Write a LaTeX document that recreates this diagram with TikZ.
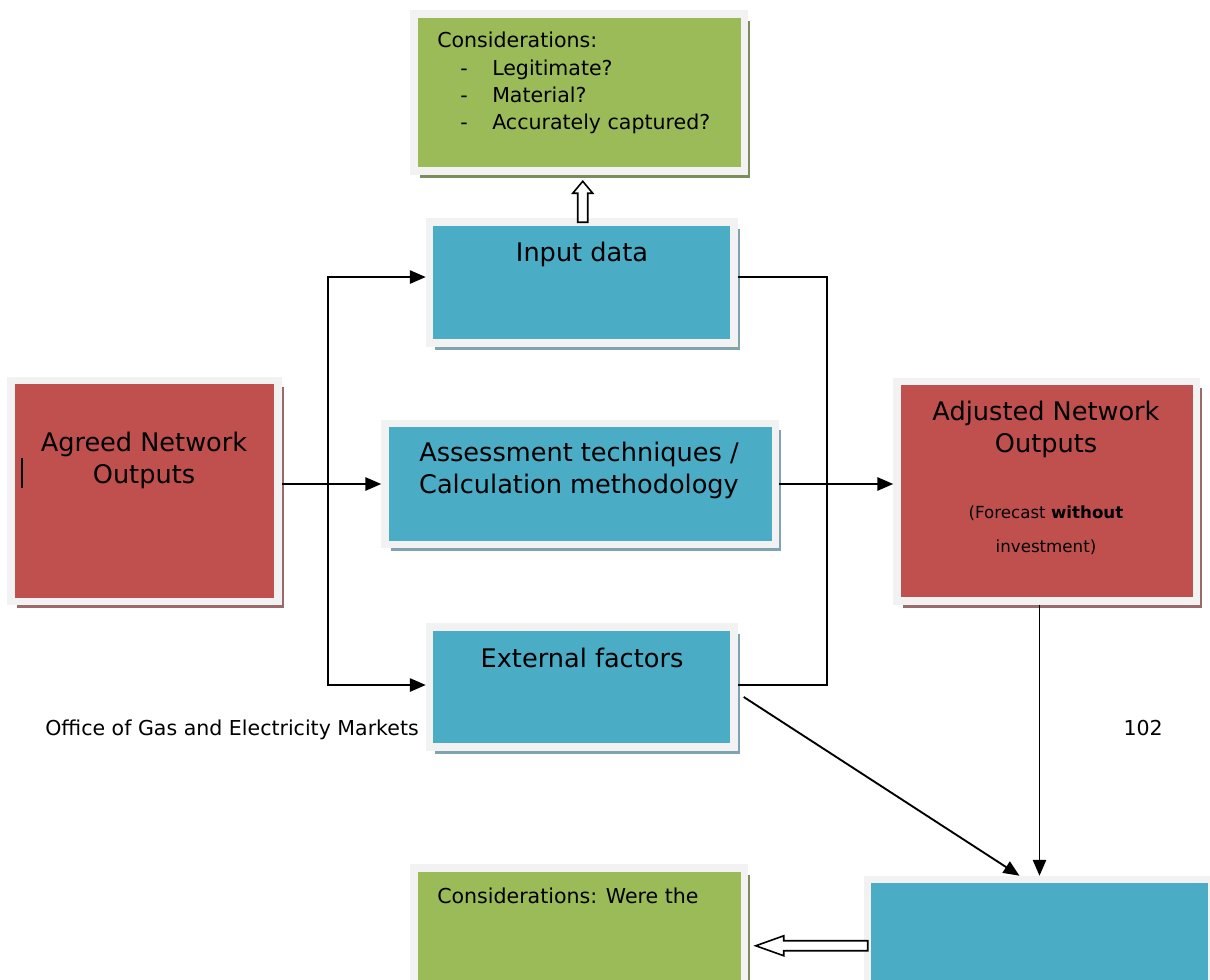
\documentclass[tikz,border=0pt]{standalone}
\usepackage{fontspec}
\setmainfont{DejaVu Sans}
\usetikzlibrary{arrows.meta,shadows,calc}
\definecolor{boxgreen}{HTML}{9BBB59}
\definecolor{boxblue}{HTML}{4BACC6}
\definecolor{boxred}{HTML}{C0504D}
\definecolor{boxframe}{HTML}{F2F2F2}
\definecolor{shgreen}{HTML}{7D8C5C}
\definecolor{shblue}{HTML}{7FA3B1}
\definecolor{shred}{HTML}{9C6A6A}

\tikzset{
  netbox/.style={draw=boxframe,line width=5.6pt,inner sep=0pt},
  greenbox/.style={netbox,fill=boxgreen,drop shadow={shadow xshift=4.2pt,shadow yshift=-5pt,fill=shgreen,opacity=1}},
  bluebox/.style={netbox,fill=boxblue,drop shadow={shadow xshift=4.2pt,shadow yshift=-5pt,fill=shblue,opacity=1}},
  redbox/.style={netbox,fill=boxred,drop shadow={shadow xshift=4.2pt,shadow yshift=-5pt,fill=shred,opacity=1}},
  bigtxt/.style={font=\fontsize{19.2}{23.5}\selectfont,align=center,anchor=base,inner sep=0pt},
  smalltxt/.style={font=\fontsize{15.4}{20.6}\selectfont,align=left,anchor=base west,inner sep=0pt},
  notetxt/.style={font=\fontsize{12.5}{25.5}\selectfont,align=center,anchor=base,inner sep=0pt},
  conn/.style={line width=1.4pt},
  arr/.style={conn,-{Triangle[length=12pt,width=10pt]}},
  hollow/.style={draw=black,fill=white,line width=1.2pt}
}

\begin{document}
\begin{tikzpicture}[x=0.75pt,y=-0.75pt]
  \clip (0,0) rectangle (1210,980);
  \fill[white] (0,0) rectangle (1210,980);

  % boxes
  \node[greenbox,minimum width=330.5*0.75pt,minimum height=157*0.75pt] (cons1) at (579.25,92.5) {};
  \node[bluebox,minimum width=304.5*0.75pt,minimum height=121*0.75pt] (input) at (581.75,282.5) {};
  \node[bluebox,minimum width=390.5*0.75pt,minimum height=121*0.75pt] (assess) at (580.25,484) {};
  \node[bluebox,minimum width=304.5*0.75pt,minimum height=120*0.75pt] (external) at (581.75,687) {};
  \node[redbox,minimum width=267*0.75pt,minimum height=220.5*0.75pt] (agreed) at (144.5,491) {};
  \node[redbox,minimum width=299.5*0.75pt,minimum height=219.5*0.75pt] (adjusted) at (1046.75,491.25) {};
  \node[bluebox,minimum width=344*0.75pt,minimum height=261*0.75pt] (result) at (1039.5,1010) {};
  \node[greenbox,minimum width=330.5*0.75pt,minimum height=157*0.75pt] (cons2) at (579.25,946.5) {};

  % texts (multi-line: anchor on the last baseline)
  \node[smalltxt] (cons1txt) at (437,130) {Considerations:\\
    \hspace*{17.25pt}\makebox[24pt][l]{-}Legitimate?\\
    \hspace*{17.25pt}\makebox[24pt][l]{-}Material?\\
    \hspace*{17.25pt}\makebox[24pt][l]{-}Accurately captured?};
  \node[bigtxt] (inputtxt) at (582,262) {Input data};
  \node[bigtxt] (assesstxt) at (579,493) {Assessment techniques /\\Calculation methodology};
  \node[bigtxt] (externaltxt) at (582,667) {External factors};
  \node[bigtxt] (agreedtxt) at (144,483) {Agreed Network\\Outputs};
  \node[bigtxt] (adjustedtxt) at (1046,452) {Adjusted Network\\Outputs};
  \node[notetxt] (adjustednote) at (1046,552) {(Forecast \textbf{without}\\investment)};
  \node[smalltxt] (cons2txt) at (437,903) {Considerations: Were the};
  \node[smalltxt] (office) at (45,735) {Office of Gas and Electricity Markets};
  \node[smalltxt,anchor=base east] (page) at (1163,735) {102};
  \draw[line width=1.4pt] (22,458) -- (22,488);

  % connectors
  \coordinate (split) at (328,484);
  \coordinate (bus) at (827,484);
  \draw[conn] (agreed.east |- assess.west) -- (split);
  \draw[arr] (split) -- (assess.west);
  \draw[arr] (split) |- ([yshift=4.1pt]input.west);
  \draw[arr] (split) |- ([yshift=1.5pt]external.west);
  \draw[conn] ([yshift=4.1pt]input.east) -| (bus) |- ([yshift=1.5pt]external.east);
  \draw[arr] (assess.east) -- (assess.east -| adjusted.west);
  \draw[arr] (result.north |- adjusted.south) -- (result.north);
  \draw[arr] ($(external.east)+(6,10)$) -- ([xshift=-15pt]result.north);

  % hollow arrows
  \draw[hollow] ($(input.north)+(1,4)$) -- ++(-5,0) -- ++(0,-29) -- ++(-5,0) -- ++(10,-12)
    -- ++(10,12) -- ++(-5,0) -- ++(0,29) -- cycle;
  \draw[hollow] ($(result.north west)+(4,65)$) -- ++(-84,0) -- ++(0,-5) -- ++(-28,10)
    -- ++(28,10) -- ++(0,-5) -- ++(84,0) -- cycle;
\end{tikzpicture}
\end{document}
